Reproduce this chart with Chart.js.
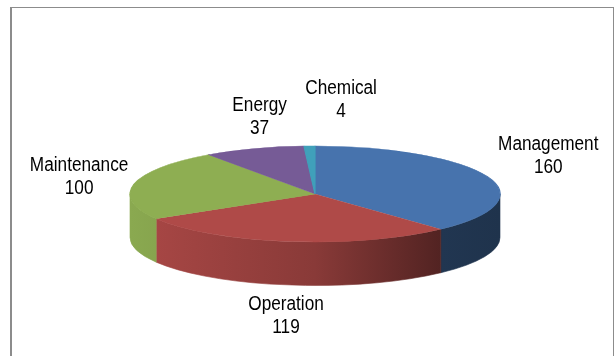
<!DOCTYPE html>
<html lang="en">
<head>
    <meta charset="UTF-8">
    <title>Cost Breakdown (3D Pie)</title>
    <script src="https://cdn.jsdelivr.net/npm/chart.js"></script>
    <style>
        body {
            margin: 0;
            background: #FFFFFF;
            overflow: hidden;
        }
        .frame {
            position: absolute;
            left: 10px;
            top: 7px;
            width: 601px;
            height: 400px;
            border-top: 1px solid #8C8C8C;
            border-right: 1px solid #8C8C8C;
            border-left: 2px solid #8C8C8C;
        }
        .chart-box {
            position: absolute;
            left: 0;
            top: 0;
            width: 616px;
            height: 356px;
        }
    </style>
</head>
<body>
    <div class="frame"></div>
    <div class="chart-box"><canvas id="chart" width="616" height="356"></canvas></div>
    <script>
        // Data
        const categories = ['Management', 'Operation', 'Maintenance', 'Energy', 'Chemical'];
        const amounts = [160, 119, 100, 37, 4];
        const sliceColors = ['#4773AD', '#AF4A48', '#8EAE52', '#765B96', '#40A0BA'];

        // View of the disc: flattening of the top face and wall height, both relative to rx
        const TILT = 0.26;
        const DEPTH = 0.235;
        // wall lighting from left (0) to right (1) of the disc
        const wallLight = [[0, 0.97], [0.07, 0.95], [0.5, 0.78], [0.84, 0.47], [1, 0.44]];

        const FONT_PX = 20;
        const LINE_H = 23;
        const NARROW = 0.86; // squeeze Arial-like text to a narrow face
        // extra moves Excel makes so the labels sit clear of each other
        const labelShift = [[5, -8], [4, -2], [3, 0], [18, 0], [33, -13]];

        function shade(hex, f) {
            const n = parseInt(hex.slice(1), 16);
            const r = Math.round(((n >> 16) & 255) * f);
            const g = Math.round(((n >> 8) & 255) * f);
            const b = Math.round((n & 255) * f);
            return 'rgb(' + r + ',' + g + ',' + b + ')';
        }

        const pie3d = {
            id: 'pie3d',
            beforeDatasetsDraw(chart) {
                const ctx = chart.ctx;
                const area = chart.chartArea;
                const arcs = chart.getDatasetMeta(0).data;
                const cx = arcs[0].x, cy = arcs[0].y, R = arcs[0].outerRadius;
                const rx = (area.right - area.left) / 2;
                const ry = rx * TILT;
                const dz = rx * DEPTH;

                // outer walls, only the front half (0..PI) can be seen
                arcs.forEach((arc, i) => {
                    const a0 = Math.max(arc.startAngle, 0);
                    const a1 = Math.min(arc.endAngle, Math.PI);
                    if (a1 <= a0) return;
                    const grad = ctx.createLinearGradient(cx - rx, 0, cx + rx, 0);
                    wallLight.forEach(([u, f]) => grad.addColorStop(u, shade(sliceColors[i], f)));
                    ctx.save();
                    ctx.beginPath();
                    ctx.ellipse(cx, cy, rx, ry, 0, a0, a1, false);
                    ctx.ellipse(cx, cy + dz, rx, ry, 0, a1, a0, true);
                    ctx.closePath();
                    ctx.fillStyle = grad;
                    ctx.fill();
                    ctx.strokeStyle = grad;
                    ctx.lineWidth = 0.6;
                    ctx.stroke();
                    ctx.restore();
                });

                // top faces: the library's own arcs, flattened onto the ellipse
                arcs.forEach(arc => {
                    ctx.save();
                    ctx.translate(cx, cy);
                    ctx.scale(rx / R, ry / R);
                    ctx.translate(-cx, -cy);
                    arc.draw(ctx);
                    ctx.restore();
                });

                // data labels: category name over value, outside the rim
                ctx.save();
                ctx.font = FONT_PX + 'px "Liberation Sans", Arial, sans-serif';
                ctx.fillStyle = '#000000';
                ctx.textAlign = 'center';
                ctx.textBaseline = 'middle';
                const gap = 10;
                arcs.forEach((arc, i) => {
                    const mid = (arc.startAngle + arc.endAngle) / 2;
                    const c = Math.cos(mid), s = Math.sin(mid);
                    const lines = [categories[i], String(amounts[i])];
                    const w = Math.max(...lines.map(t => ctx.measureText(t).width)) * NARROW;
                    const h = LINE_H * 2;
                    let px = cx + rx * c;
                    let py = cy + ry * s + (s > 0 ? dz : 0);
                    px += c * (gap + w / 2) + labelShift[i][0];
                    py += s * (gap + h / 2) + labelShift[i][1];
                    lines.forEach((t, k) => {
                        ctx.save();
                        ctx.translate(px, py + (k - 0.5) * LINE_H);
                        ctx.scale(NARROW, 1);
                        ctx.fillText(t, 0, 0);
                        ctx.restore();
                    });
                });
                ctx.restore();
                return false;
            }
        };

        const chart = new Chart(document.getElementById('chart').getContext('2d'), {
            type: 'pie',
            data: {
                labels: categories,
                datasets: [{
                    data: amounts,
                    backgroundColor: sliceColors,
                    borderColor: sliceColors,
                    borderWidth: 1
                }]
            },
            options: {
                responsive: false,
                animation: false,
                events: [],
                layout: { padding: { left: 130, right: 116, top: 40, bottom: 8 } },
                plugins: {
                    legend: { display: false },
                    tooltip: { enabled: false }
                }
            },
            plugins: [pie3d]
        });
    </script>
</body>
</html>
